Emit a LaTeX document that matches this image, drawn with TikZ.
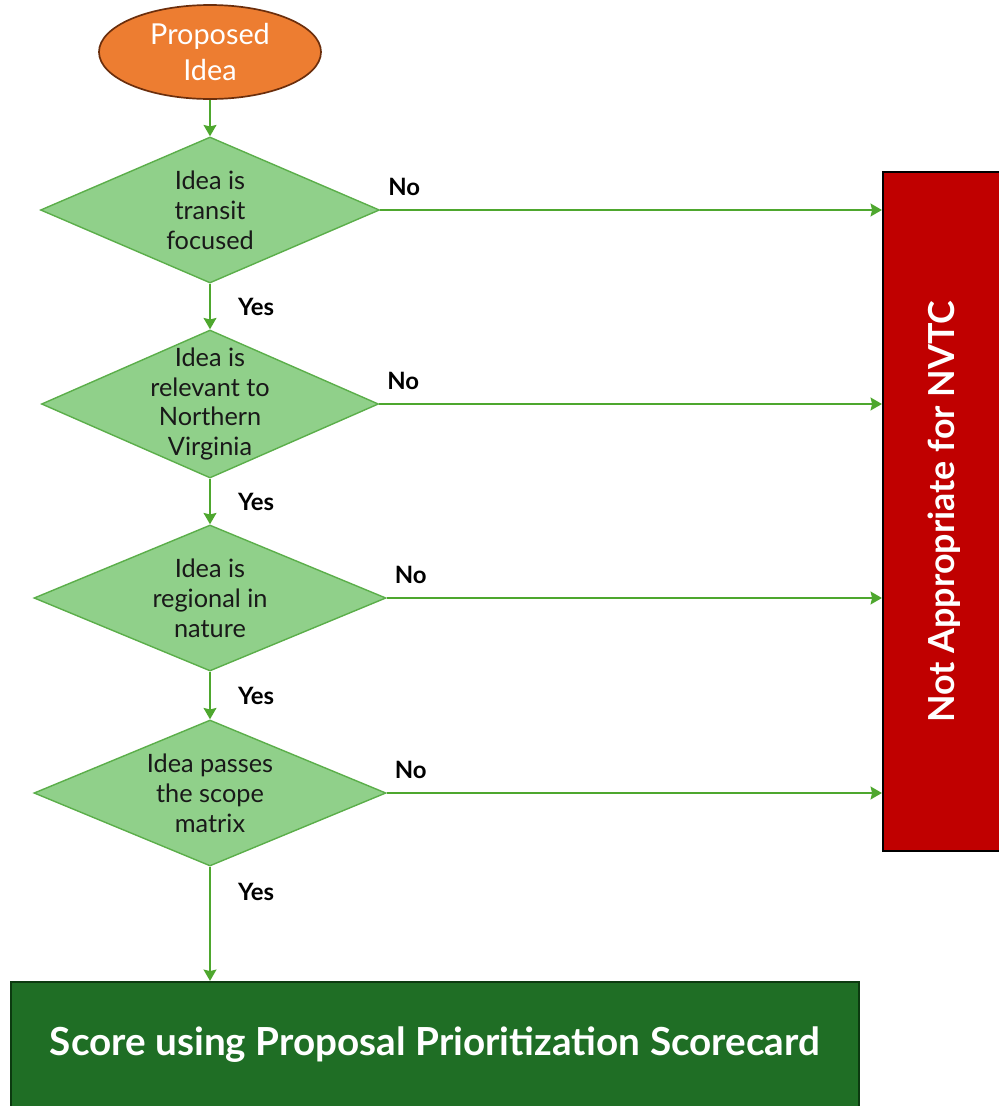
\documentclass[tikz,border=0pt]{standalone}
\usepackage{fontspec}
\setmainfont{Lato}
\usepackage{xcolor}
\usepackage{tikz}
\usetikzlibrary{arrows.meta,positioning,shapes.geometric}
\definecolor{ideaorange}{HTML}{ED7D31}
\definecolor{ideaedge}{HTML}{6B2E0C}
\definecolor{diafill}{HTML}{90D08A}
\definecolor{diaedge}{HTML}{5BAE4A}
\definecolor{arrgreen}{HTML}{4EA72E}
\definecolor{rejectred}{HTML}{C00000}
\definecolor{scoregreen}{HTML}{1F6E25}
\definecolor{scoreedge}{HTML}{0C3A10}

\begin{document}
\begin{tikzpicture}[
  font=\fontsize{18}{21.3}\selectfont,
  dec/.style={diamond,aspect=2.3,draw=diaedge,fill=diafill,line width=1pt,inner sep=-0.35cm,align=center,text=black!90},
  arr/.style={-{Stealth[length=8pt,width=9pt,inset=1pt]},draw=arrgreen,line width=2pt},
  lbl/.style={font=\fontsize{17}{20}\selectfont\bfseries,text=black},
  nolbl/.style={lbl,pos=0,anchor=south west,xshift=0.05cm,yshift=0.2cm}
]
\useasboundingbox (0,0) rectangle (24.975,-27.65);

\node[ellipse,draw=ideaedge,fill=ideaorange,line width=1.2pt,inner sep=0pt,
  minimum width=5.55cm,minimum height=2.35cm,text=white,align=center,
  font=\fontsize{20.5}{25}\selectfont] (idea) at (5.25,-1.3) {Proposed\\Idea};

\node[dec,minimum width=8.475cm,minimum height=3.65cm] (q1) at (5.25,-5.25) {Idea is\\transit\\focused};
\node[dec,minimum width=8.425cm,minimum height=3.7cm] (q2) at (5.25,-10.1) {Idea is\\relevant to\\Northern\\Virginia};
\node[dec,minimum width=8.8cm,minimum height=3.65cm] (q3) at (5.25,-14.95) {Idea is\\regional in\\nature};
\node[dec,minimum width=8.8cm,minimum height=3.65cm] (q4) at (5.25,-19.825) {Idea passes\\the scope\\matrix};

\node[draw=black,fill=rejectred,line width=1.5pt,minimum width=3.05cm,minimum height=16.975cm,
  text=white,font=\fontsize{25.5}{30}\selectfont\bfseries] (reject) at (23.6,-12.79)
  {\rotatebox{90}{Not Appropriate for NVTC}};

\node[draw=scoreedge,fill=scoregreen,line width=1.5pt,minimum width=21.2cm,minimum height=3.15cm,
  text=white,font=\fontsize{27.5}{30}\selectfont\bfseries] (score) at (10.875,-26.125)
  {Score using Proposal Prioritization Scorecard};

% main line down
\draw[arr] (idea) -- (q1);
\draw[arr] (q1) -- node[lbl,right=0.55cm] {Yes} (q2);
\draw[arr] (q2) -- node[lbl,right=0.55cm] {Yes} (q3);
\draw[arr] (q3) -- node[lbl,right=0.55cm] {Yes} (q4);
\draw[arr] (q4) -- node[lbl,pos=0.22,right=0.55cm] {Yes} (q4 |- score.north);

% rejections
\draw[arr] (q1.east) -- node[nolbl] {No} (q1.east -| reject.west);
\draw[arr] (q2.east) -- node[nolbl] {No} (q2.east -| reject.west);
\draw[arr] (q3.east) -- node[nolbl] {No} (q3.east -| reject.west);
\draw[arr] (q4.east) -- node[nolbl] {No} (q4.east -| reject.west);
\end{tikzpicture}
\end{document}
